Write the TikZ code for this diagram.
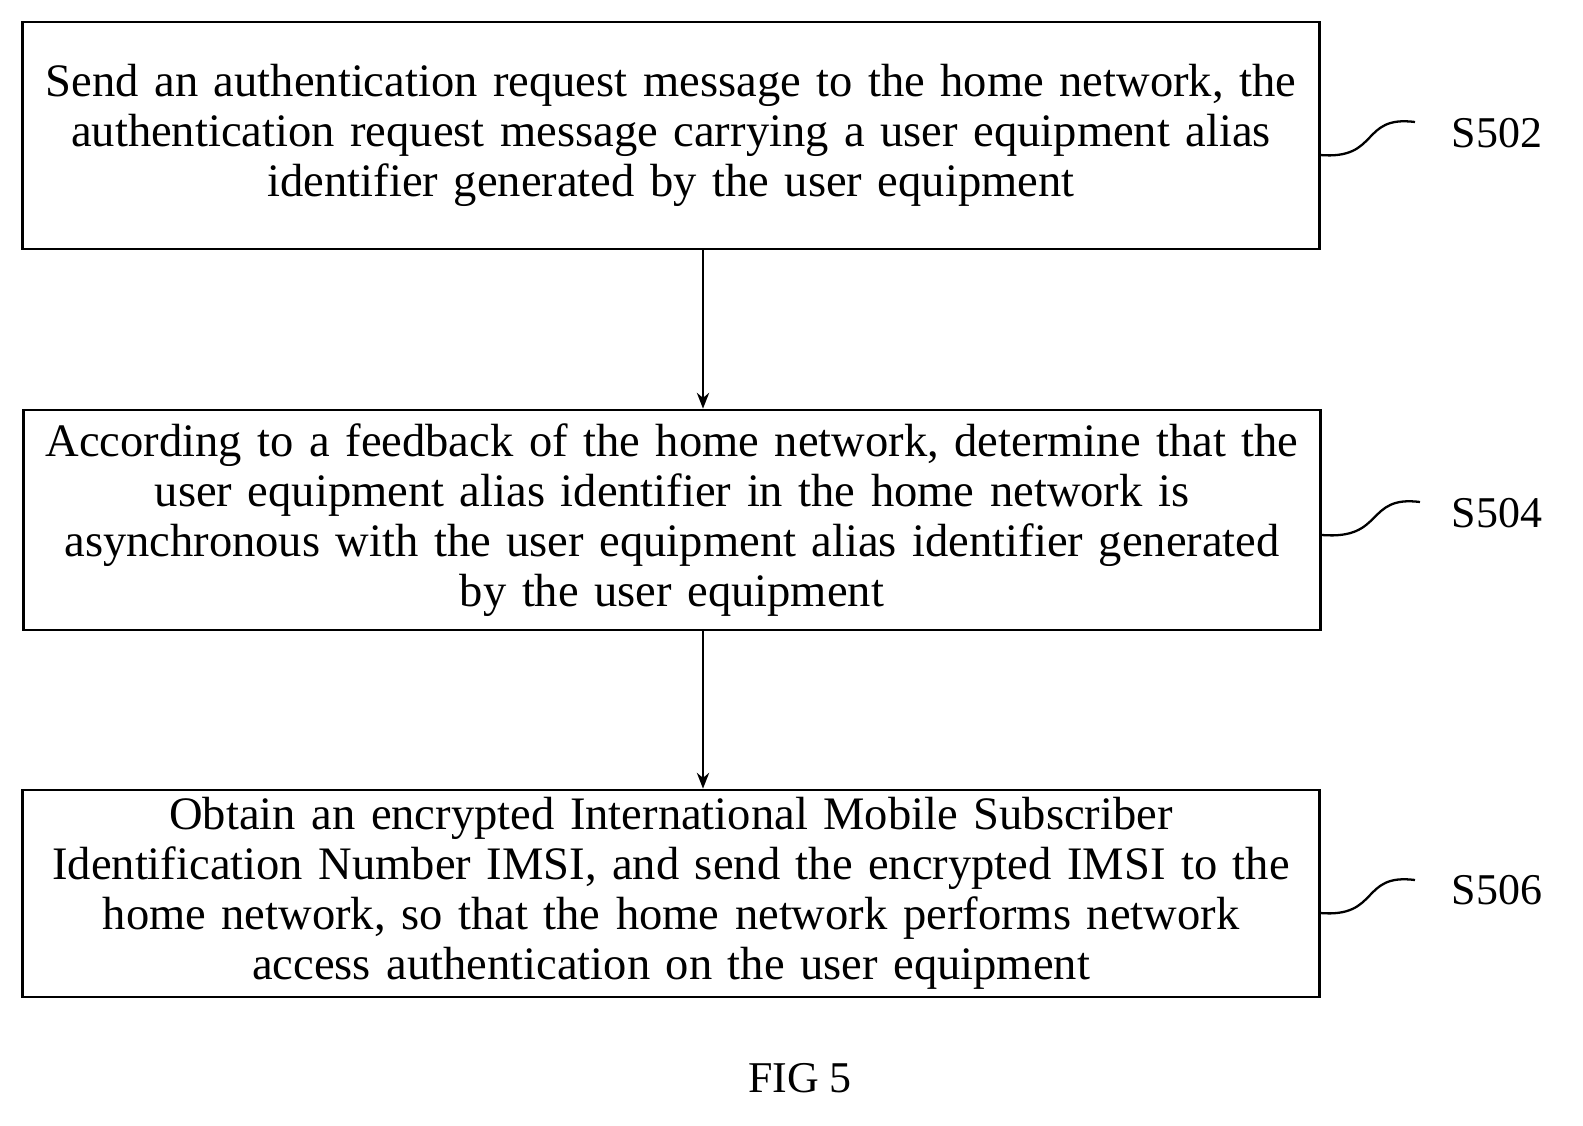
\documentclass[tikz,border=0pt]{standalone}
\usepackage{fontspec}
\usetikzlibrary{arrows.meta}
\setmainfont{Liberation Serif}
\begin{document}
\begin{tikzpicture}[x=0.02cm,y=-0.02cm,
  box/.style={draw,line width=1.6pt,minimum width=25.96cm,text width=25.9cm,align=center,inner sep=0pt,font=\fontsize{26.5}{28.4}\selectfont},
  lab/.style={font=\fontsize{25}{27}\selectfont},
  arr/.style={-{Stealth[length=9pt,width=7pt]},line width=1.3pt},
  sq/.style={line width=1.3pt}]
\useasboundingbox (0,0) rectangle (1583,1126);
\node[box,minimum height=4.54cm] (b1) at (671,135.5) {Send an authentication request message to the home network, the\\authentication request message carrying a user equipment alias\\identifier generated by the user equipment};
\node[box,minimum height=4.4cm] (b2) at (672,520) {According to a feedback of the home network, determine that the\\user equipment alias identifier in the home network is\\asynchronous with the user equipment alias identifier generated\\by the user equipment};
\node[box,minimum height=4.14cm] (b3) at (671,893.5) {Obtain an encrypted International Mobile Subscriber\\Identification Number IMSI, and send the encrypted IMSI to the\\home network, so that the home network performs network\\access authentication on the user equipment};
\draw[arr] (b1.south -| 703,0) -- (b2.north -| 703,0);
\draw[arr] (b2.south -| 703,0) -- (b3.north -| 703,0);
\node[lab] (s1) at (1497,133) {S502};
\node[lab] (s2) at (1497,513) {S504};
\node[lab] (s3) at (1497,890) {S506};
\coordinate (e1) at (1320,155); \coordinate (f1) at (1415,122);
\coordinate (e2) at (1322,535); \coordinate (f2) at (1420,502);
\coordinate (e3) at (1320,913); \coordinate (f3) at (1415,880);
\draw[sq] (e1) .. controls (1380,160) and (1360,115) .. (f1);
\draw[sq] (e2) .. controls (1385,540) and (1365,495) .. (f2);
\draw[sq] (e3) .. controls (1380,918) and (1360,873) .. (f3);
\node[lab] (fig) at (800,1078) {FIG 5};
\end{tikzpicture}
\end{document}
